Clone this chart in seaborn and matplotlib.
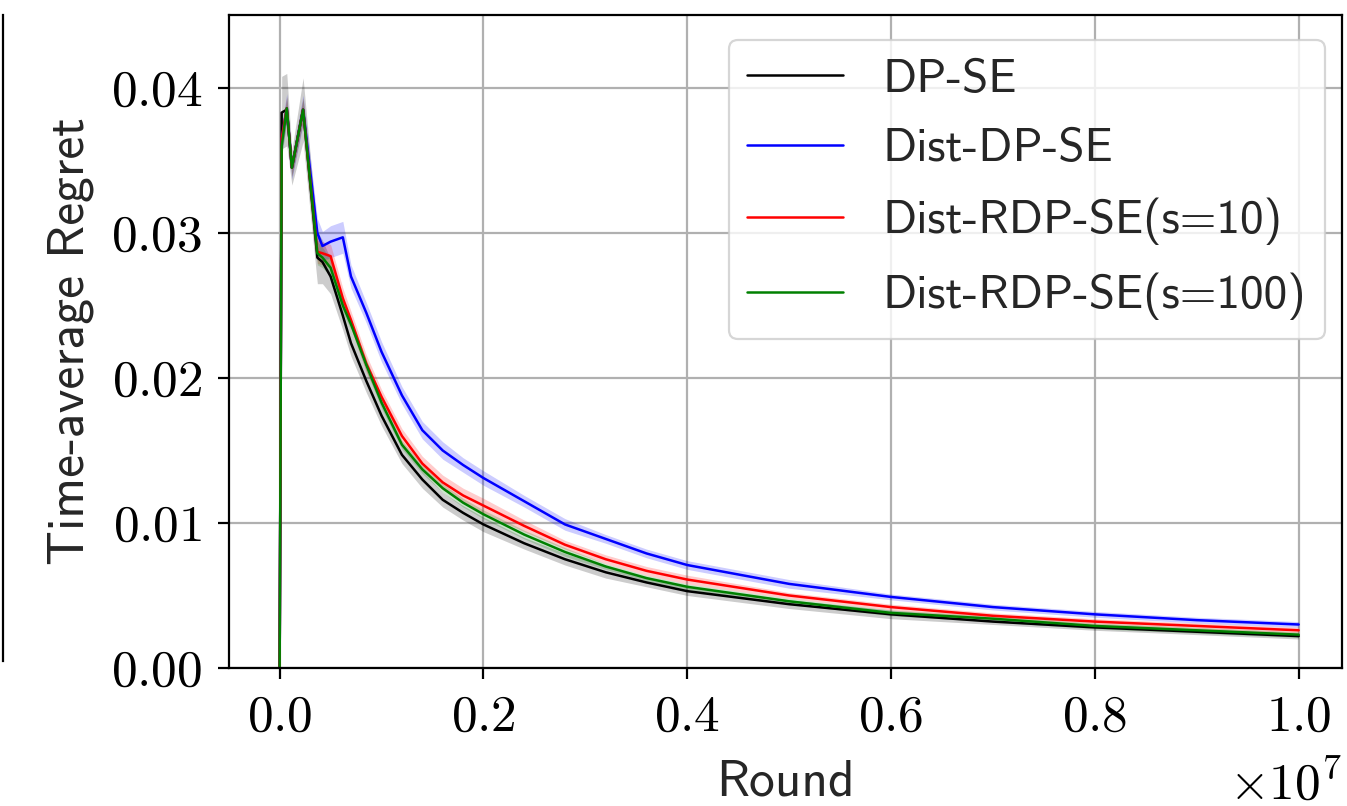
import os
import numpy as np
import pandas as pd
import matplotlib
matplotlib.use("Agg")
import matplotlib.pyplot as plt
from matplotlib import font_manager
from matplotlib import transforms as mtransforms
import seaborn as sns

# Rounds at which the time-average regret was logged (in units of 1e6 rounds)
rounds_m = [0, 0.02, 0.07, 0.12, 0.23, 0.37, 0.42, 0.5, 0.62, 0.7, 0.85, 1.0, 1.2, 1.4,
            1.6, 1.8, 2.0, 2.4, 2.8, 3.2, 3.6, 4.0, 5.0, 6.0, 7.0, 8.0, 9.0, 10.0]

dp_se = [0, 0.0383, 0.0385, 0.0345, 0.0385, 0.0283, 0.0280, 0.0270, 0.0243, 0.0224,
         0.0198, 0.0174, 0.0147, 0.0130, 0.0116, 0.0107, 0.0099, 0.0086, 0.0075,
         0.0066, 0.0059, 0.0053, 0.0044, 0.0037, 0.0032, 0.0028, 0.0025, 0.0022]
dist_dp_se = [0, 0.0365, 0.0386, 0.0345, 0.0385, 0.0300, 0.0291, 0.0294, 0.0297, 0.0270,
              0.0245, 0.0218, 0.0188, 0.0164, 0.0150, 0.0140, 0.0131, 0.0115, 0.0099,
              0.0089, 0.0079, 0.0071, 0.0058, 0.0049, 0.0042, 0.0037, 0.0033, 0.0030]
dist_rdp_s10 = [0, 0.0365, 0.0386, 0.0345, 0.0385, 0.0287, 0.0286, 0.0284, 0.0255, 0.0240,
                0.0210, 0.0187, 0.0160, 0.0141, 0.0128, 0.0119, 0.0112, 0.0098, 0.0085,
                0.0075, 0.0067, 0.0061, 0.0050, 0.0042, 0.0036, 0.0032, 0.0029, 0.0026]
dist_rdp_s100 = [0, 0.0360, 0.0386, 0.0345, 0.0385, 0.0286, 0.0283, 0.0276, 0.0250, 0.0237,
                 0.0209, 0.0183, 0.0154, 0.0137, 0.0124, 0.0114, 0.0106, 0.0092, 0.0080,
                 0.0070, 0.0062, 0.0056, 0.0046, 0.0038, 0.0034, 0.0029, 0.0026, 0.0023]

# Half-width of the shaded spread around each mean curve
spread_dp_se = [0, 0.0025, 0.0025, 0.0012, 0.0022, 0.0018, 0.0015, 0.0012, 0.0010, 0.0009,
                0.0008, 0.0007, 0.0006, 0.0006, 0.0005, 0.0005, 0.0005, 0.0004, 0.0004,
                0.0004, 0.0003, 0.0003, 0.0003, 0.0003, 0.0002, 0.0002, 0.0002, 0.0002]
spread_dist_dp_se = [0, 0.0010, 0.0010, 0.0008, 0.0010, 0.0010, 0.0010, 0.0011, 0.0011, 0.0008,
                     0.0007, 0.0007, 0.0006, 0.0006, 0.0006, 0.0005, 0.0005, 0.0004, 0.0004,
                     0.0003, 0.0003, 0.0003, 0.0003, 0.0002, 0.0002, 0.0002, 0.0002, 0.0002]
spread_dist_rdp_s10 = [0, 0.0008, 0.0008, 0.0006, 0.0008, 0.0008, 0.0008, 0.0008, 0.0007, 0.0006,
                       0.0006, 0.0005, 0.0005, 0.0005, 0.0005, 0.0005, 0.0005, 0.0004, 0.0003,
                       0.0003, 0.0003, 0.0003, 0.0002, 0.0002, 0.0002, 0.0002, 0.0002, 0.0002]
spread_dist_rdp_s100 = [0, 0.0008, 0.0008, 0.0006, 0.0008, 0.0008, 0.0007, 0.0006, 0.0005, 0.0004,
                        0.0004, 0.0004, 0.0003, 0.0003, 0.0003, 0.0003, 0.0003, 0.0003, 0.0003,
                        0.0002, 0.0002, 0.0002, 0.0002, 0.0002, 0.0002, 0.0002, 0.0002, 0.0002]

labels = ["DP-SE", "Dist-DP-SE", "Dist-RDP-SE(s=10)", "Dist-RDP-SE(s=100)"]
colors = ["black", "blue", "red", "green"]
means = [dp_se, dist_dp_se, dist_rdp_s10, dist_rdp_s100]
spreads = [spread_dp_se, spread_dist_dp_se, spread_dist_rdp_s10, spread_dist_rdp_s100]

rounds = np.array(rounds_m) * 1e6
df = pd.concat(
    [pd.DataFrame({"Round": rounds, "Regret": m, "Algorithm": lab}) for m, lab in zip(means, labels)],
    ignore_index=True,
)

# Computer Modern faces bundled with matplotlib
ttf_dir = os.path.join(matplotlib.get_data_path(), "fonts", "ttf")
for name in ("cmr10.ttf", "cmss10.ttf"):
    font_manager.fontManager.addfont(os.path.join(ttf_dir, name))
sans_path = os.path.join(ttf_dir, "cmss10.ttf")

sns.set_style("ticks")
plt.rcParams.update({
    "font.family": ["cmr10", "DejaVu Sans"],
    "mathtext.fontset": "cm",
    "axes.formatter.use_mathtext": True,
    "axes.linewidth": 1.6,
    "axes.edgecolor": "black",
    "xtick.major.width": 1.6,
    "ytick.major.width": 1.6,
    "xtick.major.size": 8,
    "ytick.major.size": 8,
    "xtick.direction": "out",
    "ytick.direction": "out",
    "xtick.color": "black",
    "ytick.color": "black",
})

fig = plt.figure(figsize=(13.47, 8.06), dpi=100)

# Neighbouring panel to the left, only its right edge falls inside the figure
ax_prev = fig.add_axes([-0.6, 0.18, 0.6025, 0.8014])
for side in ("left", "top", "bottom"):
    ax_prev.spines[side].set_visible(False)
ax_prev.set_xticks([])
ax_prev.set_yticks([])

ax = fig.add_axes([229 / 1347, 138 / 806, 1113 / 1347, 653 / 806])

sns.lineplot(data=df, x="Round", y="Regret", hue="Algorithm", hue_order=labels,
             palette=colors, linewidth=1.8, ax=ax, legend=True)
for m, s, c in zip(means, spreads, colors):
    m = np.array(m)
    s = np.array(s)
    ax.fill_between(rounds, m - s, m + s, color=c, alpha=0.2, linewidth=0)

ax.set_xlim(-0.0497e7, 1.0425e7)
ax.set_ylim(0, 0.04503)
ax.set_yticks([0.0, 0.01, 0.02, 0.03, 0.04])
ax.set_xticks([0, 0.2e7, 0.4e7, 0.6e7, 0.8e7, 1.0e7])
ax.grid(True, color="#b0b0b0", linewidth=1.6)
ax.set_axisbelow(True)
ax.tick_params(labelsize=37, pad=11)

offset = ax.xaxis.get_offset_text()
offset.set_fontsize(37)
offset.set_transform(offset.get_transform() + mtransforms.Affine2D().translate(0, -16))

ax.set_xlabel("Round", fontproperties=font_manager.FontProperties(fname=sans_path, size=37), labelpad=14)
ax.set_ylabel("Time-average Regret", fontproperties=font_manager.FontProperties(fname=sans_path, size=37), labelpad=12)

handles, _ = ax.get_legend_handles_labels()
leg = ax.legend(handles, labels, loc="upper right", bbox_to_anchor=(0.9847, 0.9617),
                prop=font_manager.FontProperties(fname=sans_path, size=34),
                handlelength=2.03, handletextpad=0.83, labelspacing=0.58, borderpad=0.4,
                framealpha=0.8, fancybox=True, borderaxespad=0)
leg.get_frame().set_edgecolor("#cccccc")
leg.get_frame().set_linewidth(1.6)
for line in leg.get_lines():
    line.set_linewidth(1.8)

fig.savefig("out.png", dpi=100)
